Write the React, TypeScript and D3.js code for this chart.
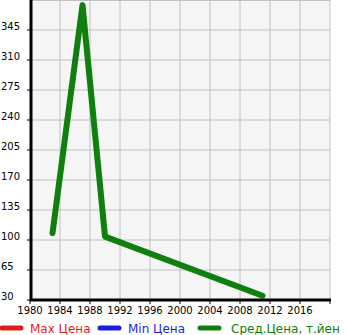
import React from "react";
import * as d3 from "d3";

const years = [1983, 1987, 1990, 2011];
const avgPrice = [108, 374, 104, 35];
const maxPrice: number[] = [];
const minPrice: number[] = [];
const xTicks = [1980, 1984, 1988, 1992, 1996, 2000, 2004, 2008, 2012, 2016];
const yTicks = [30, 65, 100, 135, 170, 205, 240, 275, 310, 345];
const legendLabels = ["Max Цена", "Min Цена", "Сред.Цена, т.йен"];
const legendColors = ["#dc1e1e", "#1e1ee0", "#0f800f"];

export default function App() {
  const W = 345, H = 335;
  const left = 31, right = 330, top = 0, bottom = 300;
  const x = d3.scaleLinear().domain([1980, 2020]).range([left - 1, right]);
  const y = d3.scaleLinear().domain([30, 380]).range([bottom, top]);
  const gridX = d3.range(1984, 2021, 4);
  const line = d3.line<[number, number]>().x(d => x(d[0])).y(d => y(d[1]));
  const avgData = years.map((yr, i) => [yr, avgPrice[i]] as [number, number]);
  const legendX = [0, 98, 198];
  const font = "DejaVu Sans, sans-serif";
  return (
    <svg width={W} height={H} style={{ position: "absolute", left: 0, top: 0 }} fontFamily={font}>
      <rect x={left} y={top} width={right - left} height={bottom - top} fill="#f5f5f5" />
      {gridX.map(g => (
        <line key={"gx" + g} x1={x(g)} x2={x(g)} y1={top} y2={bottom} stroke="#c0c0c0" strokeWidth={1} />
      ))}
      {yTicks.map(t => (
        <line key={"gy" + t} x1={left} x2={right} y1={y(t)} y2={y(t)} stroke="#c0c0c0" strokeWidth={1} />
      ))}
      <line x1={left} x2={right} y1={top + 0.5} y2={top + 0.5} stroke="#c0c0c0" strokeWidth={1} />
      {maxPrice.length > 0 && <path d={line(maxPrice.map((v, i) => [years[i], v]))!} fill="none" stroke={legendColors[0]} strokeWidth={6} />}
      {minPrice.length > 0 && <path d={line(minPrice.map((v, i) => [years[i], v]))!} fill="none" stroke={legendColors[1]} strokeWidth={6} />}
      <path d={line(avgData)!} fill="none" stroke={legendColors[2]} strokeWidth={6} strokeLinecap="round" strokeLinejoin="round" />
      <line x1={left} x2={left} y1={top} y2={bottom + 1} stroke="#000" strokeWidth={3} />
      <line x1={left - 1} x2={right + 1} y1={bottom} y2={bottom} stroke="#000" strokeWidth={3} />
      {xTicks.map(t => (
        <g key={"xt" + t}>
          <line x1={x(t)} x2={x(t)} y1={bottom} y2={bottom + 4} stroke="#000" strokeWidth={1} />
          <text x={x(t)} y={314} fontSize={10} textAnchor="middle" fill="#000">{t}</text>
        </g>
      ))}
      <line x1={right} x2={right} y1={bottom} y2={bottom + 4} stroke="#000" strokeWidth={1} />
      {yTicks.map(t => (
        <g key={"yt" + t}>
          <line x1={left - 4} x2={left} y1={y(t)} y2={y(t)} stroke="#000" strokeWidth={1} />
          <text x={1} y={y(t)} fontSize={10} fill="#000">{t}</text>
        </g>
      ))}
      {legendLabels.map((l, i) => (
        <g key={l}>
          <line x1={legendX[i] + 2} x2={legendX[i] + 21} y1={328} y2={328} stroke={legendColors[i]} strokeWidth={5} strokeLinecap="round" />
          <text x={legendX[i] + (i === 2 ? 33 : 30)} y={333} fontSize={12} fill={legendColors[i]}>{l}</text>
        </g>
      ))}
    </svg>
  );
}
